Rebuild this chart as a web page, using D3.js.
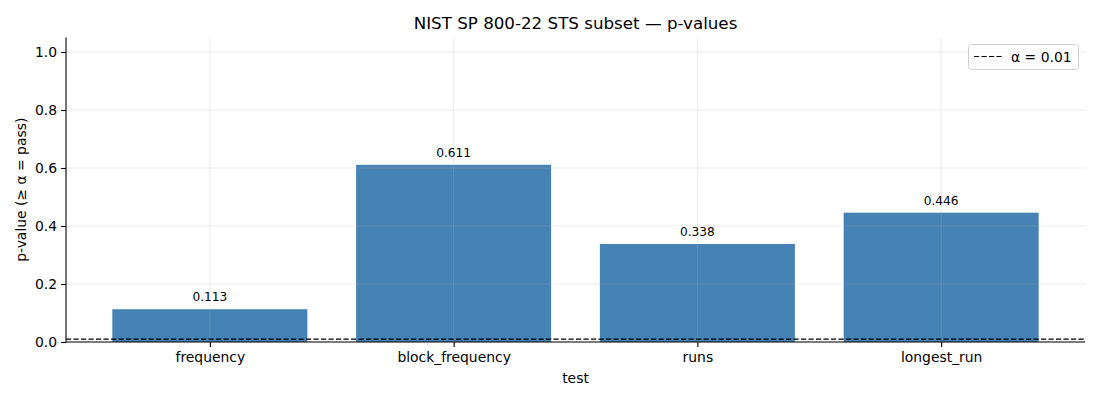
<!DOCTYPE html>
<html><head><meta charset="utf-8">
<script src="https://cdn.jsdelivr.net/npm/d3@7"></script>
<style>body{margin:0;background:#fff;} text{font-family:"DejaVu Sans",sans-serif;}</style>
</head><body>
<svg id="c" width="1100" height="400"></svg>
<script>
const tests = ["frequency","block_frequency","runs","longest_run"];
const pvalues = [0.113,0.611,0.338,0.446];
const alpha = 0.01;
const yTicks = [0.0,0.2,0.4,0.6,0.8,1.0];

const svg = d3.select("#c");
const L=66,R=1085,T=37.5,B=342;
const x = d3.scaleLinear().domain([-0.59,3.59]).range([L,R]);
const y = d3.scaleLinear().domain([0,1.05]).range([B,T]);
const bw = x(0.4)-x(-0.4);

svg.append("g").selectAll("rect").data(pvalues).join("rect")
  .attr("x",(d,i)=>x(i)-bw/2).attr("width",bw)
  .attr("y",d=>y(d)).attr("height",d=>B-y(d)).attr("fill","#4682b4");

// grid
const g = svg.append("g").attr("stroke","#b0b0b0").attr("stroke-opacity",0.3).attr("stroke-width",0.8);
yTicks.forEach(t=>g.append("line").attr("x1",L).attr("x2",R).attr("y1",y(t)).attr("y2",y(t)));
tests.forEach((t,i)=>g.append("line").attr("x1",x(i)).attr("x2",x(i)).attr("y1",T).attr("y2",B));

// alpha line
svg.append("line").attr("x1",L).attr("x2",R).attr("y1",y(alpha)).attr("y2",y(alpha))
  .attr("stroke","#000").attr("stroke-width",1.2).attr("stroke-dasharray","5.2,2.3");

// bar labels
svg.append("g").selectAll("text").data(pvalues).join("text")
  .attr("x",(d,i)=>x(i)).attr("y",d=>y(d)-8).attr("text-anchor","middle")
  .attr("font-size",12.2).attr("fill","#000").text(d=>d.toFixed(3));

// axes
const ax = svg.append("g").attr("transform",`translate(0,${B})`)
  .call(d3.axisBottom(x).tickValues(d3.range(tests.length)).tickFormat(i=>tests[i]).tickSize(4.9).tickPadding(5.5));
const ay = svg.append("g").attr("transform",`translate(${L},0)`)
  .call(d3.axisLeft(y).tickValues(yTicks).tickFormat(d3.format(".1f")).tickSize(4.9).tickPadding(4));
[ax,ay].forEach(a=>{a.selectAll("text").attr("font-size",13.9).attr("fill","#000").style("font-family","DejaVu Sans");
  a.selectAll("line").attr("stroke","#000").attr("stroke-width",1.1);
  a.select(".domain").attr("stroke","#000").attr("stroke-width",1.1);});
ax.select(".domain").attr("d",`M${L},0H${R}`);
ay.select(".domain").attr("d",`M0,${B}V${T}`);

// titles
svg.append("text").attr("x",(L+R)/2).attr("y",29).attr("text-anchor","middle").attr("font-size",16.7).text("NIST SP 800-22 STS subset — p-values");
svg.append("text").attr("x",(L+R)/2).attr("y",383).attr("text-anchor","middle").attr("font-size",13.9).text("test");
svg.append("text").attr("transform",`translate(26,${(T+B)/2}) rotate(-90)`).attr("text-anchor","middle").attr("font-size",13.9).text("p-value (≥ α = pass)");

// legend
const lg = svg.append("g");
lg.append("rect").attr("x",968.5).attr("y",44.5).attr("width",110).attr("height",25).attr("rx",3)
  .attr("fill","#fff").attr("fill-opacity",0.8).attr("stroke","#d0d0d0");
lg.append("line").attr("x1",974).attr("x2",1002).attr("y1",56.5).attr("y2",56.5).attr("stroke","#000").attr("stroke-width",1.2).attr("stroke-dasharray","5.2,2.3");
lg.append("text").attr("x",1011).attr("y",61.5).attr("font-size",13.9).text("α = 0.01");
</script>
</body></html>
